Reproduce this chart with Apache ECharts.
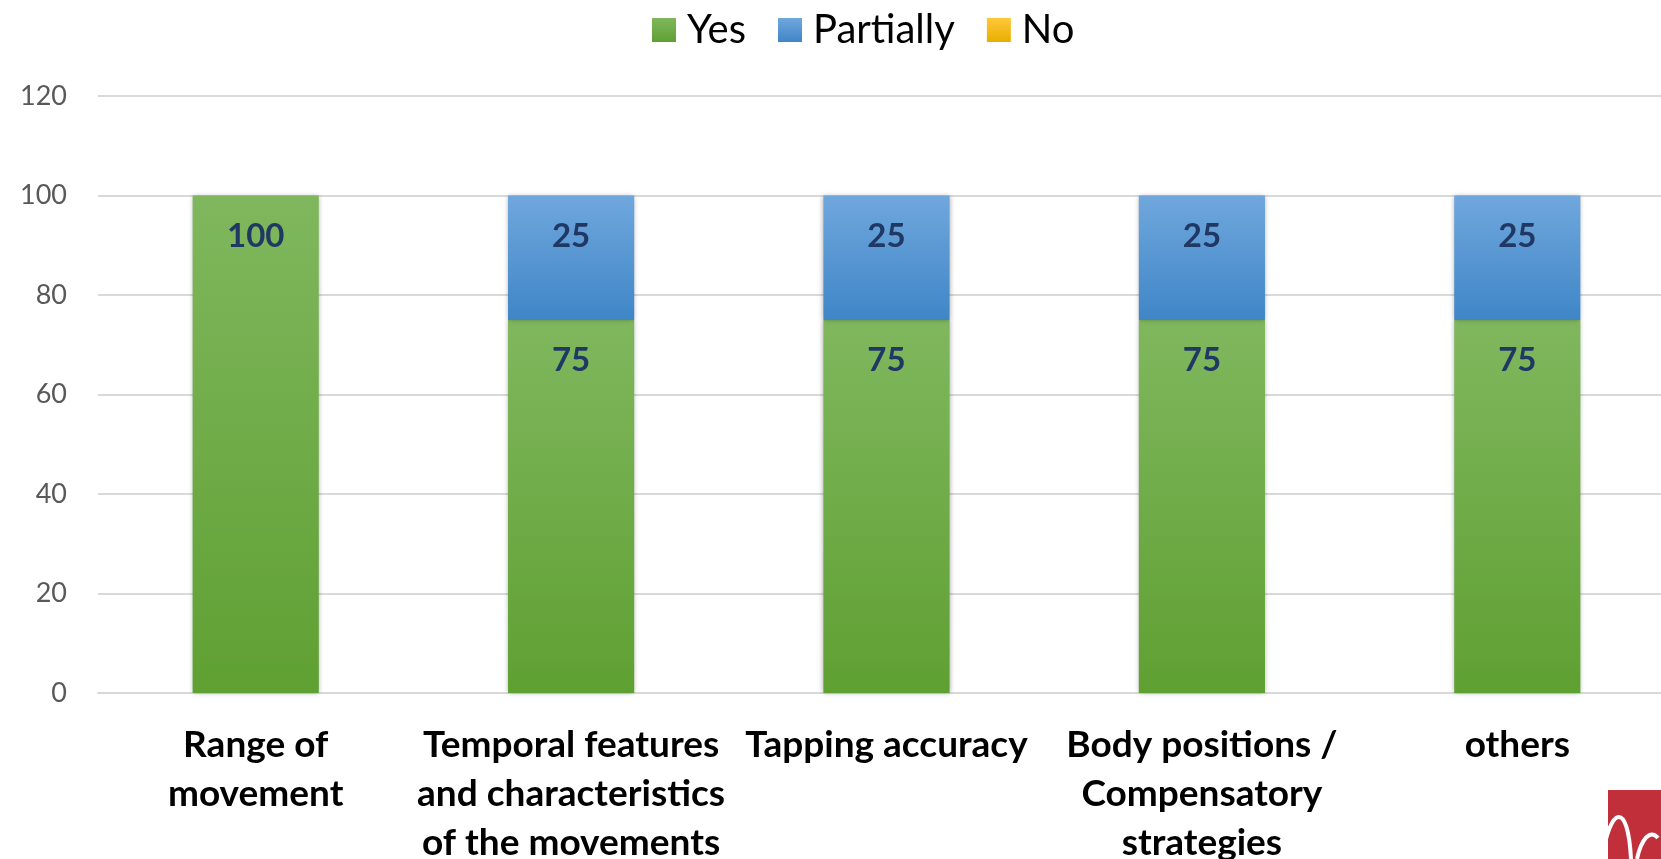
<!DOCTYPE html>
<html>
<head>
<meta charset="utf-8">
<script src="https://cdn.jsdelivr.net/npm/echarts@6/dist/echarts.min.js"></script>
<style>
html,body{margin:0;padding:0;background:#fff;}
#chart{width:1661px;height:859px;}
</style>
</head>
<body>
<div id="chart"></div>
<script>
var categories = ['Range of\nmovement', 'Temporal features\nand characteristics\nof the movements', 'Tapping accuracy', 'Body positions /\nCompensatory\nstrategies', 'others'];
var seriesNames = ['Yes', 'Partially', 'No'];
var yesValues = [100, 75, 75, 75, 75];
var partiallyValues = [0, 25, 25, 25, 25];
var noValues = [0, 0, 0, 0, 0];
var yTicks = [0, 20, 40, 60, 80, 100, 120];

var FONT = 'Lato';
function grad(top, bottom) {
  return {type: 'linear', x: 0, y: 0, x2: 0, y2: 1, colorStops: [
    {offset: 0, color: top}, {offset: 1, color: bottom}
  ]};
}
function toData(arr) { return arr.map(function (v) { return v === 0 ? null : v; }); }

var labelCfg = {
  show: true,
  position: 'insideTop',
  distance: 24,
  color: '#203864',
  fontFamily: FONT,
  fontWeight: 'bold',
  fontSize: 33,
  lineHeight: 33
};
var shadow = {shadowBlur: 5, shadowColor: 'rgba(0,0,0,0.35)', shadowOffsetX: 0, shadowOffsetY: 0};

var chart = echarts.init(document.getElementById('chart'), null, {renderer: 'canvas'});
chart.setOption({
  animation: false,
  backgroundColor: '#ffffff',
  legend: {
    data: seriesNames,
    top: 5,
    left: 647,
    itemWidth: 24,
    itemHeight: 24,
    itemGap: 32,
    icon: 'rect',
    textStyle: {fontFamily: FONT, fontSize: 40, lineHeight: 40, color: '#000', padding: [0, 0, 0, 6]}
  },
  grid: {left: 98, right: -14, top: 96, bottom: 166, containLabel: false, outerBoundsMode: 'none'},
  xAxis: {
    type: 'category',
    data: categories,
    axisLine: {show: true, lineStyle: {color: '#D9D9D9', width: 2}},
    axisTick: {show: false},
    axisLabel: {
      interval: 0,
      margin: 28,
      color: '#000',
      fontFamily: FONT,
      fontWeight: 'bold',
      fontSize: 37,
      lineHeight: 49,
      hideOverlap: false
    }
  },
  yAxis: {
    type: 'value',
    min: yTicks[0],
    max: yTicks[yTicks.length - 1],
    interval: 20,
    axisLine: {show: false},
    axisTick: {show: false},
    splitLine: {lineStyle: {color: '#D9D9D9', width: 2}},
    axisLabel: {margin: 31, color: '#595959', fontFamily: FONT, fontSize: 27}
  },
  series: [
    {
      name: seriesNames[0], type: 'bar', stack: 'total', barWidth: '40%',
      data: toData(yesValues),
      itemStyle: Object.assign({color: grad('#80B75E', '#5FA032')}, shadow),
      label: labelCfg
    },
    {
      name: seriesNames[1], type: 'bar', stack: 'total', barWidth: '40%',
      data: toData(partiallyValues),
      itemStyle: Object.assign({color: grad('#70A7DD', '#3F86C7')}, shadow),
      label: labelCfg
    },
    {
      name: seriesNames[2], type: 'bar', stack: 'total', barWidth: '40%',
      data: toData(noValues),
      itemStyle: {color: grad('#FFC83A', '#E8AE00')},
      label: {show: false}
    }
  ],
  graphic: [
    {type: 'rect', silent: true, shape: {x: 1608, y: 790, width: 53, height: 69}, style: {fill: '#C1303A'}},
    {type: 'bezierCurve', silent: true, shape: {x1: 1602, y1: 859, cpx1: 1610, cpy1: 806, cpx2: 1628, cpy2: 800, x2: 1631, y2: 859},
     style: {fill: null, stroke: '#ffffff', lineWidth: 4}},
    {type: 'bezierCurve', silent: true, shape: {x1: 1637, y1: 859, cpx1: 1641, cpy1: 840, cpx2: 1650, cpy2: 828, x2: 1658, y2: 838},
     style: {fill: null, stroke: '#ffffff', lineWidth: 4}}
  ]
});
</script>
</body>
</html>
